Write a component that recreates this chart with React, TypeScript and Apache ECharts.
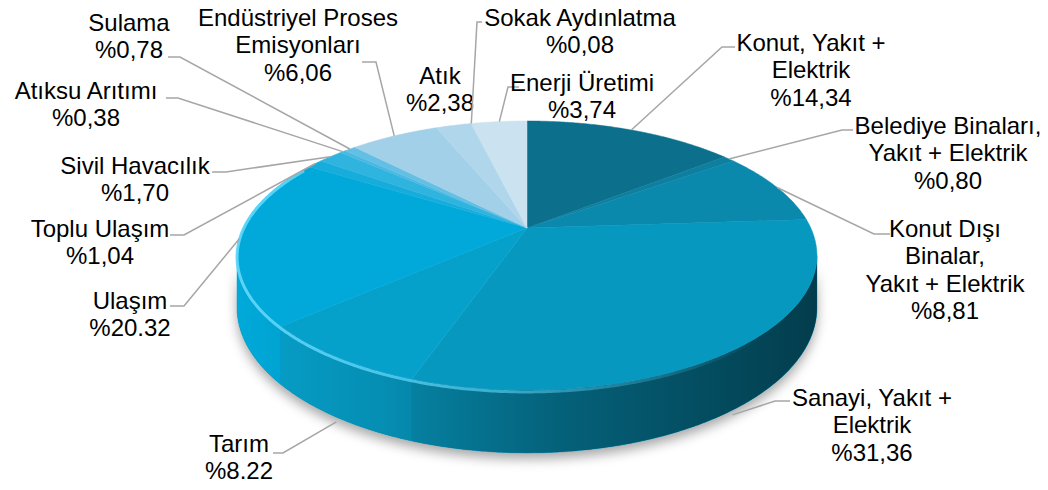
import React, { useEffect, useRef } from "react";
import * as echarts from "echarts";

// ---------- data ----------
const categories = [
  "Konut, Yakıt +\nElektrik",
  "Belediye Binaları,\nYakıt + Elektrik",
  "Konut Dışı\nBinalar,\nYakıt + Elektrik",
  "Sanayi, Yakıt +\nElektrik",
  "Tarım",
  "Ulaşım",
  "Toplu Ulaşım",
  "Sivil Havacılık",
  "Atıksu Arıtımı",
  "Sulama",
  "Endüstriyel Proses\nEmisyonları",
  "Atık",
  "Sokak Aydınlatma",
  "Enerji Üretimi",
];
const values = [14.34, 0.8, 8.81, 31.36, 8.22, 20.32, 1.04, 1.7, 0.38, 0.78, 6.06, 2.38, 0.08, 3.74];
const decimalMarks = [",", ",", ",", ",", ".", ".", ",", ",", ",", ",", ",", ",", ",", ","];

// ---------- styles / layout ----------
const sliceColors = [
  "#0c6f8c", "#0e7f9f", "#0a89ad", "#0798bf", "#06a1cb", "#00a9d9", "#16acdb",
  "#2fb3df", "#4ab9e2", "#63bfe4", "#a3d0e9", "#b0d6ec", "#bddcee", "#cbe2f1",
];
const labelPos = [
  [811, 42], [948, 125], [945, 228], [872, 397], [239, 443], [130, 300], [100, 228],
  [135, 165], [86, 90], [129, 22], [298, 17], [440, 75], [580, 17], [582, 82],
];
const leaderStart: (number[] | null)[] = [
  [735, 47, 722, 47], [853, 130, 842, 130], [890, 234, 874, 234], [790, 401, 775, 401],
  [273, 453, 283, 453], [170, 306, 184, 306], [170, 235, 184, 235], [212, 172, 226, 172],
  [166, 98, 178, 98], [168, 57, 180, 57], [362, 62, 376, 62], null, [482, 22, 477, 22],
  [519, 87, 508, 87],
];

const CX = 527, CY = 228, RA = 283.8, RB = 128.9, PK = -0.2045, DEPTH = 50;
const FONT = '24px "Liberation Sans", Arial, sans-serif';
const LINE_H = 27.5;

const thetaL = (Math.acos(PK) * 180) / Math.PI;
const thetaR = 360 - thetaL;

function pt(deg: number, drop = 0): number[] {
  const r = (deg * Math.PI) / 180;
  const u = Math.sin(r);
  const v = -Math.cos(r);
  const w = 1 + PK * v;
  return [CX + (RA * u) / w, CY + (RB * v) / w + drop / w];
}
function arc(a: number, b: number, drop: number): number[][] {
  const n = Math.max(2, Math.ceil(Math.abs(b - a) / 0.5) + 1);
  const out: number[][] = [];
  for (let i = 0; i < n; i++) out.push(pt(a + ((b - a) * i) / (n - 1), drop));
  return out;
}
function frontSide(a: number, b: number): number[][] | null {
  const s = Math.max(a, thetaL);
  const e = Math.min(b, thetaR);
  if (s >= e) return null;
  return arc(s, e, 0).concat(arc(s, e, DEPTH).reverse());
}

const total = values.reduce((s, v) => s + v, 0);
const starts: number[] = [];
values.reduce((acc, v, i) => {
  starts.push(acc);
  return acc + v;
}, 0);
const sliceData = values.map((v, i) => ({ name: categories[i], value: [starts[i], starts[i] + v, v] }));
const toDeg = (p: number) => (p / total) * 360;

function fmt(i: number) {
  return "%" + values[i].toFixed(2).replace(".", decimalMarks[i]);
}

const option: any = {
  animation: false,
  backgroundColor: "#ffffff",
  series: [
    {
      type: "custom",
      coordinateSystem: "none",
      silent: true,
      z: 1,
      data: [0],
      renderItem: () => {
        const poly = frontSide(thetaL, thetaR)!;
        return {
          type: "polygon",
          shape: { points: poly },
          style: {
            fill: "#0a6c8c",
            shadowBlur: 12,
            shadowOffsetY: 6,
            shadowColor: "rgba(0,0,0,0.35)",
          },
        };
      },
    },
    {
      type: "custom",
      coordinateSystem: "none",
      silent: true,
      z: 2,
      data: sliceData,
      renderItem: (params: any, api: any) => {
        const a = toDeg(api.value(0));
        const b = toDeg(api.value(1));
        const poly = frontSide(a, b);
        if (!poly) return { type: "group", children: [] };
        const c = sliceColors[params.dataIndex];
        return {
          type: "polygon",
          shape: { points: poly },
          style: { fill: c, stroke: c, lineWidth: 0.5 },
        };
      },
    },
    {
      type: "custom",
      coordinateSystem: "none",
      silent: true,
      z: 3,
      data: [0],
      renderItem: () => {
        const poly = frontSide(thetaL, thetaR)!;
        return {
          type: "polygon",
          shape: { points: poly },
          style: {
            fill: {
              type: "linear",
              x: 238,
              y: 0,
              x2: 817,
              y2: 0,
              global: true,
              colorStops: [
                { offset: 0, color: "rgba(0,0,0,0.0)" },
                { offset: 0.25, color: "rgba(0,0,0,0.12)" },
                { offset: 0.55, color: "rgba(0,0,0,0.36)" },
                { offset: 1, color: "rgba(0,0,0,0.6)" },
              ],
            },
          },
        };
      },
    },
    {
      type: "custom",
      coordinateSystem: "none",
      silent: true,
      z: 4,
      data: sliceData,
      renderItem: (params: any, api: any) => {
        const a = toDeg(api.value(0));
        const b = toDeg(api.value(1));
        const c = sliceColors[params.dataIndex];
        const pts = [[CX, CY]].concat(arc(a, b, 0));
        return {
          type: "polygon",
          shape: { points: pts },
          style: { fill: c, stroke: c, lineWidth: 0.5 },
        };
      },
    },
    {
      type: "custom",
      coordinateSystem: "none",
      silent: true,
      z: 5,
      data: [0],
      renderItem: () => {
        return {
          type: "polyline",
          shape: { points: arc(thetaL, 300, 1.5) },
          style: {
            fill: "none",
            lineWidth: 3,
            stroke: {
              type: "linear",
              x: 238,
              y: 0,
              x2: 760,
              y2: 0,
              global: true,
              colorStops: [
                { offset: 0, color: "rgba(95,215,250,0.95)" },
                { offset: 0.5, color: "rgba(95,215,250,0.6)" },
                { offset: 1, color: "rgba(95,215,250,0)" },
              ],
            },
          },
        };
      },
    },
    {
      type: "custom",
      coordinateSystem: "none",
      silent: true,
      z: 6,
      data: sliceData,
      renderItem: (params: any, api: any) => {
        const i = params.dataIndex;
        const a = toDeg(api.value(0));
        const b = toDeg(api.value(1));
        const mid = (a + b) / 2;
        const end = mid >= thetaL && mid <= thetaR ? pt(mid, DEPTH * 1.08) : pt(mid, 0);
        const children: any[] = [];
        const ls = leaderStart[i];
        if (ls) {
          children.push({
            type: "polyline",
            shape: { points: [[ls[0], ls[1]], [ls[2], ls[3]], end] },
            style: { fill: "none", stroke: "#a6a6a6", lineWidth: 1.5 },
          });
        }
        const lp = labelPos[i];
        children.push({
          type: "text",
          x: lp[0],
          y: lp[1] - LINE_H / 2,
          style: {
            text: categories[i] + "\n" + fmt(i),
            fill: "#000000",
            font: FONT,
            align: "center",
            verticalAlign: "top",
            lineHeight: LINE_H,
          },
        });
        return { type: "group", children };
      },
    },
  ],
};

export default function App() {
  const ref = useRef<HTMLDivElement>(null);
  useEffect(() => {
    document.body.style.margin = "0";
    const chart = echarts.init(ref.current!, null, { renderer: "svg" });
    chart.setOption(option);
    return () => chart.dispose();
  }, []);
  return <div ref={ref} style={{ width: 1048, height: 490 }} />;
}
